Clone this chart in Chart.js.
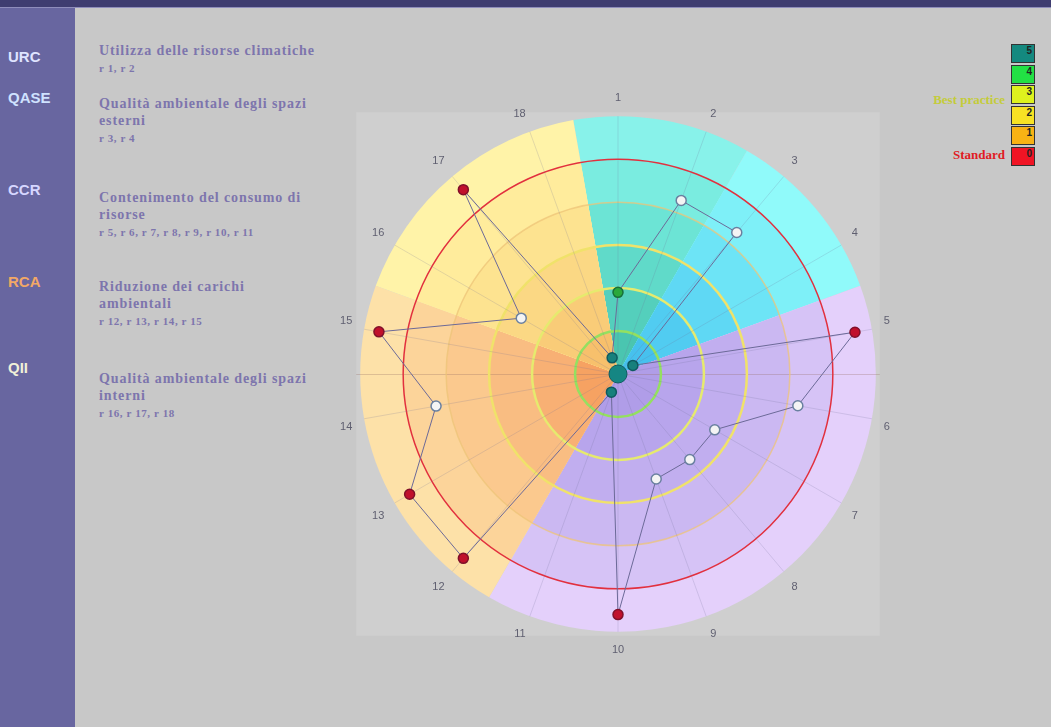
<!DOCTYPE html>
<html>
<head>
<meta charset="utf-8">
<script src="https://cdn.jsdelivr.net/npm/chart.js@4.4.1/dist/chart.umd.min.js"></script>
<style>
body { margin: 0; width: 1051px; height: 727px; background: #c8c8c8; overflow: hidden; position: relative; font-family: "Liberation Sans", Arial, sans-serif; }
.topbar { position: absolute; left: 0; top: 0; width: 1051px; height: 7px; background: #3f3d70; border-bottom: 1px solid #8f8dbb; }
.side { position: absolute; left: 0; top: 8px; width: 75px; height: 719px; background: #6866a0; }
.code { position: absolute; left: 8px; font-weight: bold; font-size: 15px; }
.desc { position: absolute; left: 99px; font-family: "Liberation Serif", serif; font-weight: bold; color: #7d75ad; font-size: 14px; line-height: 17px; letter-spacing: 0.9px; }
.desc small { font-size: 11px; letter-spacing: 0.6px; }
#wrap { position: absolute; left: 332px; top: 92px; width: 566px; height: 566px; }
.lbox { position: absolute; left: 1011px; width: 24px; height: 19px; border: 1px solid #333; font-size: 10px; font-weight: bold; color: #222; text-align: right; line-height: 12px; padding-right: 2px; box-sizing: border-box; }
.ltext { position: absolute; right: 46px; font-family: "Liberation Serif", serif; font-weight: bold; font-size: 13px; }
</style>
</head>
<body>
<div class="topbar"></div>
<div class="side"></div>
<div class="code" style="top:48px;color:#dfe4ff">URC</div>
<div class="code" style="top:89px;color:#cfe2ff">QASE</div>
<div class="code" style="top:181px;color:#d6d6ff">CCR</div>
<div class="code" style="top:273px;color:#f2a866">RCA</div>
<div class="code" style="top:359px;color:#f0f0d8">QII</div>

<div class="desc" style="top:42px">Utilizza delle risorse climatiche<br><small>r 1, r 2</small></div>
<div class="desc" style="top:95px">Qualità ambientale degli spazi<br>esterni<br><small>r 3, r 4</small></div>
<div class="desc" style="top:189px">Contenimento del consumo di<br>risorse<br><small>r 5, r 6, r 7, r 8, r 9, r 10, r 11</small></div>
<div class="desc" style="top:278px">Riduzione dei carichi<br>ambientali<br><small>r 12, r 13, r 14, r 15</small></div>
<div class="desc" style="top:370px">Qualità ambientale degli spazi<br>interni<br><small>r 16, r 17, r 18</small></div>

<div id="legend"></div>
<div class="ltext" style="top:92px;color:#c4cc3a">Best practice</div>
<div class="ltext" style="top:147px;color:#e01c24">Standard</div>

<div id="wrap"><canvas id="ecoChart"></canvas></div>

<script>
// axes of the diagram
const axisLabels = ['1', '2', '3', '4', '5', '6', '7', '8', '9', '10', '11', '12', '13', '14', '15', '16', '17', '18'];
// score read for each requirement (5 = centre, 0 = standard)
const scores = [3.1, 0.7, 0.7, 4.6, -0.6, 0.75, 2.4, 2.4, 2.4, -0.6, 4.55, -0.6, -0.6, 0.7, -0.65, 2.4, -0.6, 4.6];
// scale levels
const levelTicks = [-1, 0, 1, 2, 3, 4, 5];
// legend levels
const legendLevels = [5, 4, 3, 2, 1, 0];
// groups of requirements (first / last axis index)
const groupCodes = ['URC', 'QASE', 'CCR', 'RCA', 'QII'];
const groupFirst = [0, 2, 4, 11, 15];
const groupLast = [1, 3, 10, 14, 17];

// band colours for each group, from outer band to inner band
const groupBands = [
    ['#88f2ea', '#7aece0', '#6ce4d5', '#60dac9', '#54cfbc', '#4ac5b0'],
    ['#90fafa', '#7ef0f8', '#6de4f6', '#5fd8f4', '#51ccf1', '#46c1ee'],
    ['#e4d0fb', '#d6c3f6', '#cbb8f2', '#c1aeef', '#b8a5ec', '#b09de8'],
    ['#fde1a8', '#fcd49a', '#fbc98e', '#f9bd82', '#f8b074', '#f6a262'],
    ['#fff3a8', '#ffec9c', '#fde390', '#fbd884', '#f9cc78', '#f7c06c']
];
const ringColors = ['rgba(0,0,0,0)', '#e2303e', 'rgba(238,196,120,0.75)', '#f0e26a', '#e6ea6e', '#94e060', 'rgba(0,0,0,0)'];
const ringWidths = [0, 1.5, 1.5, 2.5, 2.5, 2.5, 0];
const legendColors = ['#14897f', '#22e044', '#def21e', '#f8e224', '#f8b214', '#f01424'];

// legend column
const legendBox = document.getElementById('legend');
legendLevels.forEach((lv, i) => {
    const d = document.createElement('div');
    d.className = 'lbox';
    d.style.top = (44 + i * 20.5) + 'px';
    d.style.background = legendColors[i];
    d.textContent = lv;
    legendBox.appendChild(d);
});

function pointFill(v) {
    if (v >= 4) return '#17807c';
    if (v >= 3) return '#2aa83c';
    if (v >= 0) return '#f4f4f4';
    return '#c0102c';
}
function pointEdge(v) {
    if (v >= 4) return '#0e5a60';
    if (v >= 3) return '#17703a';
    if (v >= 0) return '#6a80a0';
    return '#80102a';
}

// coloured sectors + lighter square behind the diagram
const sectorPlugin = {
    id: 'sectors',
    beforeDraw(chart) {
        const scale = chart.scales.r;
        const ctx = chart.ctx;
        const cx = scale.xCenter, cy = scale.yCenter;
        const R = scale.drawingArea;
        const step = Math.PI * 2 / axisLabels.length;
        ctx.save();
        ctx.fillStyle = '#cfcfcf';
        ctx.fillRect(cx - R - 4, cy - R - 4, 2 * R + 8, 2 * R + 8);
        groupCodes.forEach((code, g) => {
            const a0 = scale.getIndexAngle(groupFirst[g]) - Math.PI / 2 - step / 2;
            const a1 = scale.getIndexAngle(groupLast[g]) - Math.PI / 2 + step / 2;
            for (let b = 0; b < levelTicks.length - 1; b++) {
                const r = scale.getDistanceFromCenterForValue(levelTicks[b]);
                ctx.beginPath();
                ctx.moveTo(cx, cy);
                ctx.arc(cx, cy, r, a0, a1 < a0 ? a1 + Math.PI * 2 : a1);
                ctx.closePath();
                ctx.fillStyle = groupBands[g][b];
                ctx.fill();
            }
        });
        // horizontal guide through the centre
        ctx.beginPath();
        ctx.moveTo(cx - R - 4, cy + 0.5);
        ctx.lineTo(cx + R + 4, cy + 0.5);
        ctx.strokeStyle = 'rgba(150,110,100,0.3)';
        ctx.lineWidth = 1;
        ctx.stroke();
        ctx.restore();
    },
    afterDatasetsDraw(chart) {
        const scale = chart.scales.r;
        const ctx = chart.ctx;
        ctx.save();
        ctx.beginPath();
        ctx.arc(scale.xCenter, scale.yCenter, 9, 0, Math.PI * 2);
        ctx.fillStyle = '#158683';
        ctx.fill();
        ctx.strokeStyle = '#0e5d62';
        ctx.lineWidth = 1;
        ctx.stroke();
        ctx.restore();
    }
};

new Chart(document.getElementById('ecoChart'), {
    type: 'radar',
    data: {
        labels: axisLabels,
        datasets: [{
            label: 'Punteggio',
            data: scores,
            fill: false,
            borderColor: '#6c6a98',
            borderWidth: 1,
            tension: 0,
            pointRadius: 5,
            pointHoverRadius: 5,
            pointBorderWidth: 1.5,
            pointBackgroundColor: ctx => pointFill(ctx.raw),
            pointBorderColor: ctx => pointEdge(ctx.raw)
        }]
    },
    options: {
        responsive: true,
        maintainAspectRatio: false,
        animation: false,
        layout: { padding: 0 },
        scales: {
            r: {
                reverse: true,
                min: -1,
                max: 5,
                ticks: { display: false, stepSize: 1 },
                grid: {
                    circular: true,
                    color: ctx => ringColors[levelTicks.indexOf(ctx.tick.value)],
                    lineWidth: ctx => ringWidths[levelTicks.indexOf(ctx.tick.value)]
                },
                angleLines: { color: 'rgba(110,110,150,0.2)', lineWidth: 1 },
                pointLabels: {
                    color: '#5f5f70',
                    padding: 12,
                    font: { family: 'Liberation Sans', size: 11 }
                }
            }
        },
        plugins: {
            legend: { display: false },
            tooltip: { enabled: false }
        }
    },
    plugins: [sectorPlugin]
});
</script>
</body>
</html>
